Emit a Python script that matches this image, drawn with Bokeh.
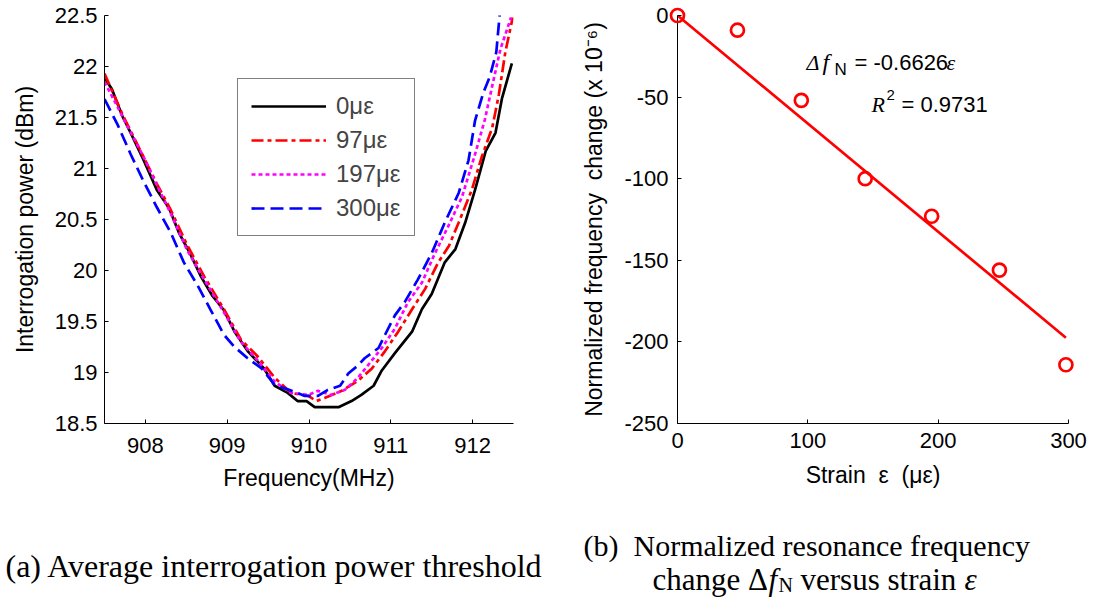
from bokeh.plotting import figure
from bokeh.layouts import column, row
from bokeh.models import Range1d, FixedTicker, Legend, LegendItem
from bokeh.core.properties import value
from bokeh.embed import file_html
from bokeh.resources import INLINE

# ---------------- (a) interrogation power vs frequency ----------------
freq_0 = [907.50, 907.59, 907.72, 907.82, 907.98, 908.14, 908.29, 908.41, 908.55, 908.68,
          908.82, 908.96, 909.09, 909.25, 909.45, 909.58, 909.74, 909.86, 909.97, 910.07,
          910.36, 910.52, 910.64, 910.79, 910.89, 911.05, 911.26, 911.38, 911.50, 911.66,
          911.79, 911.91, 912.03, 912.16, 912.28, 912.36, 912.48]
power_0 = [21.89, 21.78, 21.51, 21.35, 21.08, 20.79, 20.61, 20.37, 20.16, 19.94,
           19.75, 19.61, 19.40, 19.21, 19.04, 18.87, 18.80, 18.72, 18.72, 18.66,
           18.66, 18.72, 18.78, 18.87, 19.02, 19.19, 19.40, 19.62, 19.77, 20.08,
           20.21, 20.47, 20.79, 21.17, 21.35, 21.69, 22.03]

freq_97 = [907.50, 907.72, 907.98, 908.14, 908.30, 908.51, 908.72, 908.96, 909.17, 909.37,
           909.58, 909.78, 909.99, 910.09, 910.19, 910.40, 910.60, 910.77, 910.93, 911.09,
           911.26, 911.42, 911.58, 911.71, 911.83, 911.99, 912.11, 912.24, 912.32, 912.40,
           912.49]
power_97 = [21.93, 21.53, 21.11, 20.85, 20.61, 20.25, 19.94, 19.62, 19.32, 19.16,
            18.95, 18.80, 18.77, 18.72, 18.75, 18.82, 18.92, 19.04, 19.21, 19.40,
            19.62, 19.82, 20.08, 20.24, 20.47, 20.79, 21.11, 21.40, 21.72, 22.14,
            22.48]

freq_197 = [907.50, 907.72, 907.98, 908.15, 908.31, 908.51, 908.72, 908.96, 909.17, 909.37,
            909.58, 909.78, 909.99, 910.11, 910.27, 910.44, 910.60, 910.72, 910.89, 911.05,
            911.21, 911.38, 911.54, 911.70, 911.87, 912.03, 912.15, 912.24, 912.34, 912.47]
power_197 = [21.85, 21.51, 21.11, 20.82, 20.56, 20.20, 19.91, 19.59, 19.30, 19.12,
             18.91, 18.80, 18.78, 18.82, 18.78, 18.83, 18.95, 19.07, 19.24, 19.43,
             19.69, 19.88, 20.17, 20.43, 20.72, 21.14, 21.48, 21.81, 22.17, 22.48]

freq_300 = [907.50, 907.66, 907.82, 907.98, 908.14, 908.31, 908.47, 908.64, 908.80, 908.96,
            909.09, 909.25, 909.42, 909.58, 909.79, 909.95, 910.11, 910.23, 910.38, 910.48,
            910.60, 910.68, 910.85, 910.93, 911.05, 911.17, 911.33, 911.50, 911.66, 911.83,
            911.95, 912.03, 912.13, 912.21, 912.29, 912.33, 912.36]
power_300 = [21.68, 21.43, 21.14, 20.87, 20.62, 20.37, 20.08, 19.85, 19.61, 19.37,
             19.25, 19.14, 19.04, 18.88, 18.82, 18.77, 18.77, 18.83, 18.87, 18.99,
             19.07, 19.14, 19.24, 19.37, 19.56, 19.69, 19.91, 20.17, 20.47, 20.76,
             21.08, 21.47, 21.74, 21.90, 22.14, 22.50, 22.70]

series_labels = ["0\u03bc\u03b5", "97\u03bc\u03b5", "197\u03bc\u03b5", "300\u03bc\u03b5"]
freq_ticks = [908, 909, 910, 911, 912]
power_ticks = [18.5, 19, 19.5, 20, 20.5, 21, 21.5, 22, 22.5]

# ---------------- (b) normalized frequency change vs strain ----------------
strain = [0, 46, 95, 144, 195, 247, 298]
freq_change = [0, -9, -52, -100, -123, -156, -214]
fit_slope = -0.6626
fit_r2 = 0.9731
strain_ticks = [0, 100, 200, 300]
change_ticks = [-250, -200, -150, -100, -50, 0]

SANS = "Liberation Sans"
SERIF = "Liberation Serif"
TICK_FS = "22px"
LABEL_FS = "23px"
NB = "\u00a0"


def style_axes(p):
    p.grid.visible = False
    p.outline_line_color = None
    p.background_fill_color = "white"
    p.border_fill_color = "white"
    for ax in p.axis:
        ax.axis_line_color = "black"
        ax.axis_line_width = 1
        ax.major_tick_line_color = "black"
        ax.major_tick_in = 4
        ax.major_tick_out = 0
        ax.minor_tick_line_color = None
        ax.major_label_text_font = SANS
        ax.major_label_text_font_size = TICK_FS
        ax.major_label_text_color = "black"
        ax.axis_label_text_font = SANS
        ax.axis_label_text_font_size = LABEL_FS
        ax.axis_label_text_font_style = "normal"
        ax.axis_label_text_color = "black"


def fmt(v):
    return f"{v:g}"


# ---------- figure (a) ----------
pa = figure(width=560, height=495,
            min_border_left=104, min_border_right=47, min_border_top=15, min_border_bottom=72,
            x_range=Range1d(907.5, 912.5), y_range=Range1d(18.5, 22.5),
            output_backend="svg", toolbar_location=None)
style_axes(pa)
pa.xaxis.ticker = FixedTicker(ticks=freq_ticks)
pa.yaxis.ticker = FixedTicker(ticks=power_ticks)
pa.yaxis.major_label_overrides = {t: fmt(t) for t in power_ticks}
pa.xaxis.major_label_overrides = {t: fmt(t) for t in freq_ticks}
pa.xaxis.axis_label = "Frequency(MHz)"
pa.yaxis.axis_label = "Interrogation power (dBm)"
pa.yaxis.major_label_standoff = 7
pa.xaxis.major_label_standoff = 14
pa.yaxis.axis_label_standoff = 14
pa.xaxis.axis_label_standoff = 9

r0 = pa.line(freq_0, power_0, line_color="black", line_width=2.7)
r1 = pa.line(freq_97, power_97, line_color="red", line_width=2.7, line_dash="12 4 4 4")
r2 = pa.line(freq_197, power_197, line_color="magenta", line_width=2.7, line_dash="4 3")
r3 = pa.line(freq_300, power_300, line_color="blue", line_width=2.7, line_dash="13 6")

legend = Legend(items=[LegendItem(label=series_labels[i], renderers=[r])
                       for i, r in enumerate([r0, r1, r2, r3])],
                location=(133, 187))
legend.border_line_color = "black"
legend.border_line_width = 1
legend.background_fill_color = "white"
legend.background_fill_alpha = 1
legend.label_text_font = SANS
legend.label_text_font_size = "24px"
legend.glyph_width = 75
legend.glyph_height = 28
legend.label_height = 28
legend.label_width = 65
legend.label_standoff = 10
legend.spacing = 6
legend.padding = 13
legend.margin = 0
pa.add_layout(legend)

# ---------- figure (b) ----------
pb = figure(width=535, height=495,
            min_border_left=117, min_border_right=27, min_border_top=15, min_border_bottom=72,
            x_range=Range1d(0, 300), y_range=Range1d(-250, 0),
            output_backend="svg", toolbar_location=None)
style_axes(pb)
pb.xaxis.ticker = FixedTicker(ticks=strain_ticks)
pb.yaxis.ticker = FixedTicker(ticks=change_ticks)
pb.xaxis.major_label_overrides = {t: str(t) for t in strain_ticks}
pb.yaxis.major_label_overrides = {t: str(t) for t in change_ticks}
pb.xaxis.axis_label = f"Strain{NB} \u03b5{NB} (\u03bc\u03b5)"
pb.yaxis.axis_label = f"Normalized frequency{NB} change (x 10\u207b\u2076)"
pb.yaxis.major_label_standoff = 9
pb.xaxis.major_label_standoff = 9
pb.yaxis.axis_label_standoff = 14
pb.xaxis.axis_label_standoff = 11

fit_x = [min(strain), max(strain)]
fit_y = [fit_slope * s for s in fit_x]
pb.line(fit_x, fit_y, line_color="red", line_width=2.7)
pb.scatter(strain, freq_change, marker="circle", size=13, fill_color=None,
           line_color="red", line_width=2.7, level="overlay")

# equation annotation (anchored in data space, pieces offset in px)
ax0, ay1, ay2 = 99, -28.5, -54.5
pb.text([ax0], [ay1], text=["\u0394"], text_font=value(SERIF), text_font_style="italic",
        text_font_size="22px", text_baseline="middle", text_color="black")
pb.text([ax0], [ay1], text=["f"], x_offset=16, text_font=value(SERIF), text_font_style="italic",
        text_font_size="24px", text_baseline="middle", text_color="black")
pb.text([ax0], [ay1], text=["N"], x_offset=28, y_offset=7, text_font=value(SANS),
        text_font_size="17px", text_baseline="middle", text_color="black")
pb.text([ax0], [ay1], text=[f"= {fit_slope}"], x_offset=48, text_font=value(SANS),
        text_font_size="22px", text_baseline="middle", text_color="black")
pb.text([ax0], [ay1], text=["\u03b5"], x_offset=140, text_font=value(SERIF), text_font_style="italic",
        text_font_size="22px", text_baseline="middle", text_color="black")
pb.text([ax0], [ay2], text=["R"], x_offset=65, text_font=value(SERIF), text_font_style="italic",
        text_font_size="22px", text_baseline="middle", text_color="black")
pb.text([ax0], [ay2], text=["2"], x_offset=80, y_offset=-9, text_font=value(SANS),
        text_font_size="15px", text_baseline="middle", text_color="black")
pb.text([ax0], [ay2], text=[f"= {fit_r2}"], x_offset=95, text_font=value(SANS),
        text_font_size="22px", text_baseline="middle", text_color="black")

# ---------- captions ----------
pc = figure(width=1095, height=105, min_border=0,
            x_range=Range1d(0, 1095), y_range=Range1d(105, 0),
            x_axis_type=None, y_axis_type=None,
            output_backend="svg", toolbar_location=None)
pc.grid.visible = False
pc.outline_line_color = None
pc.text([5], [70], text=["(a) Average interrogation power threshold"], text_font=value(SERIF),
        text_font_size="32px", text_baseline="alphabetic", text_align="left", text_color="black",
        level="overlay")
pc.text([583], [50], text=[f"(b){NB} Normalized resonance frequency"], text_font=value(SERIF),
        text_font_size="30px", text_baseline="alphabetic", text_align="left", text_color="black",
        level="overlay")
l2x, l2y = 652, 84
pc.text([l2x], [l2y], text=["change \u0394"], text_font=value(SERIF),
        text_font_size="31px", text_baseline="alphabetic", text_color="black", level="overlay")
pc.text([l2x], [l2y], text=["f"], x_offset=116, text_font=value(SERIF), text_font_style="italic",
        text_font_size="31px", text_baseline="alphabetic", text_color="black", level="overlay")
pc.text([l2x], [l2y], text=["N"], x_offset=126, y_offset=5, text_font=value(SERIF),
        text_font_size="20px", text_baseline="alphabetic", text_color="black", level="overlay")
pc.text([l2x], [l2y], text=["versus strain"], x_offset=148, text_font=value(SERIF),
        text_font_size="31px", text_baseline="alphabetic", text_color="black", level="overlay")
pc.text([l2x], [l2y], text=["\u03b5"], x_offset=312, text_font=value(SERIF), text_font_style="italic",
        text_font_size="31px", text_baseline="alphabetic", text_color="black", level="overlay")

layout = column(row(pa, pb), pc)
open("out.html", "w").write(file_html(layout, INLINE))
